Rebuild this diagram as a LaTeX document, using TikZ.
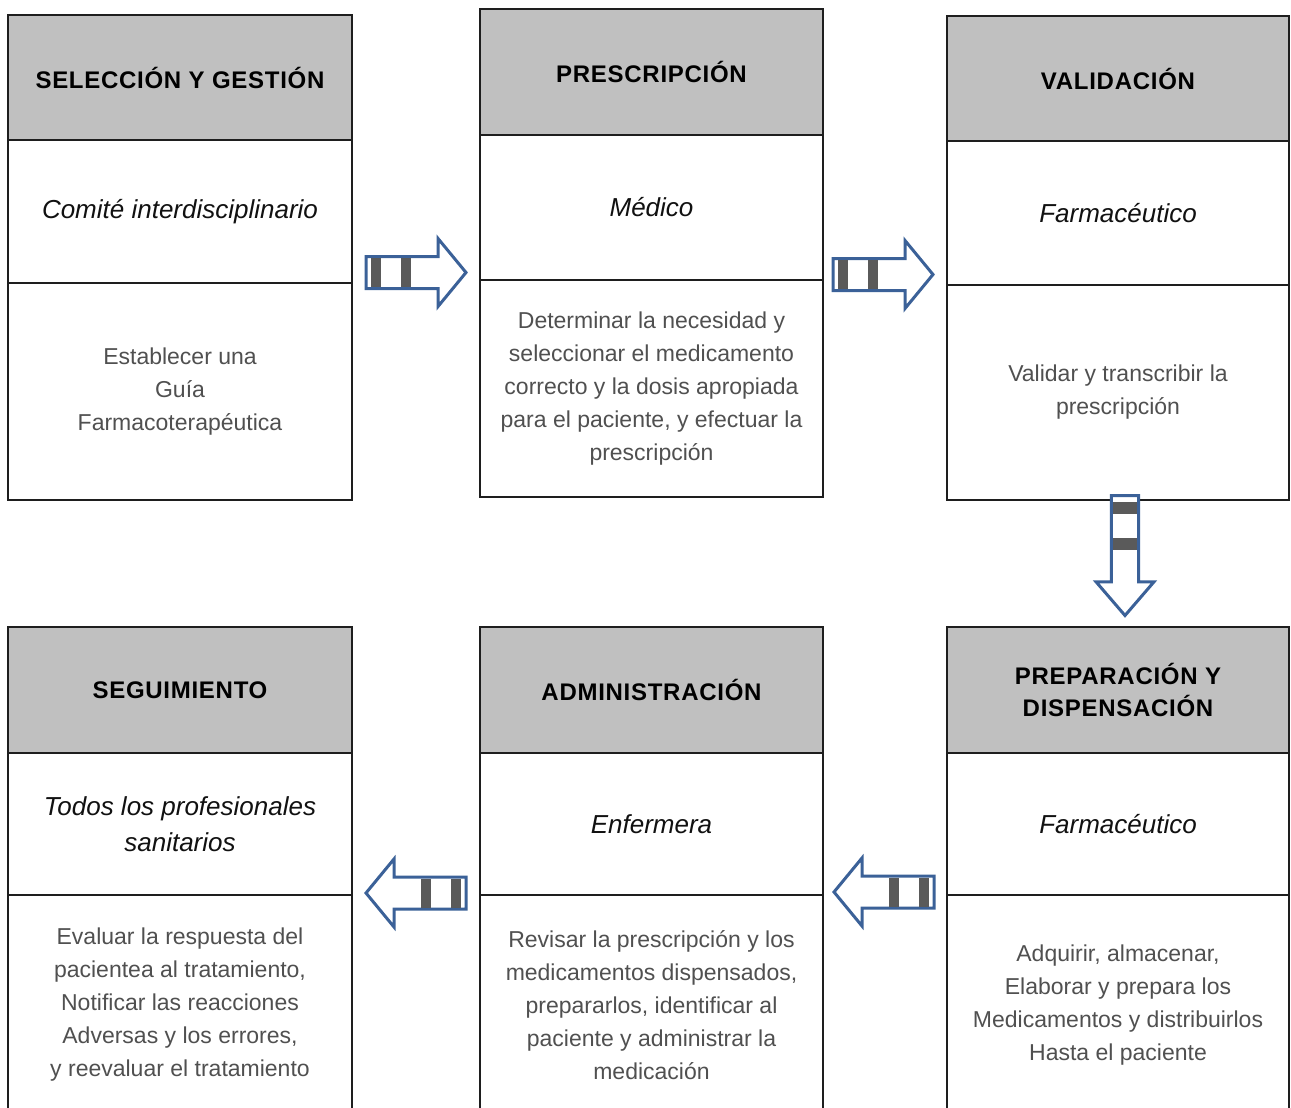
\documentclass[tikz,border=0pt]{standalone}
\usepackage{fontspec}
\setmainfont{Liberation Sans}
\usetikzlibrary{calc}
\definecolor{hdrgray}{HTML}{C0C0C0}
\definecolor{boxline}{HTML}{1E1E1E}
\definecolor{bodygray}{HTML}{505050}
\definecolor{rolecol}{HTML}{111111}
\definecolor{arrowblue}{HTML}{3B6198}
\definecolor{stripegray}{HTML}{5A5A5A}
\tikzset{
  cellbase/.style={draw=boxline, line width=2.5pt, anchor=north west, inner sep=0pt, outer sep=0pt, align=center},
  hdr/.style={cellbase, fill=hdrgray, font=\fontsize{24}{32}\selectfont\bfseries\addfontfeatures{LetterSpace=3}, text=black},
  role/.style={cellbase, fill=white, font=\fontsize{26}{36}\selectfont\itshape, text=rolecol},
  task/.style={cellbase, fill=white, font=\fontsize{23}{33}\selectfont, text=bodygray},
  blockarrow/.pic={
    \draw[arrowblue, line width=3pt, fill=white, line join=miter]
      (-50,-16) -- (22,-16) -- (22,-34) -- (50,0) -- (22,34) -- (22,16) -- (-50,16) -- cycle;
    \fill[stripegray] (-45,-14.5) rectangle (-35,14.5);
    \fill[stripegray] (-15,-14.5) rectangle (-5,14.5);
  }
}
\begin{document}
\begin{tikzpicture}[x=1pt, y=-1pt]
\useasboundingbox (0,0) rectangle (1291,1108);
\clip (0,0) rectangle (1291,1108);
\fill[white] (0,0) rectangle (1291,1108);

% column 1, top
\node[hdr, minimum width=344pt, minimum height=125pt] (h1) at (8,15) {SELECCIÓN Y GESTIÓN};
\node[role, minimum width=344pt, minimum height=143pt] (r1) at (h1.south west) {Comité interdisciplinario};
\node[task, minimum width=344pt, minimum height=217pt] (t1) at (r1.south west) {Establecer una\\Guía\\Farmacoterapéutica};

% column 2, top
\node[hdr, minimum width=343pt, minimum height=126pt] (h2) at (480,9) {PRESCRIPCIÓN};
\node[role, minimum width=343pt, minimum height=145pt] (r2) at (h2.south west) {Médico};
\node[task, minimum width=343pt, minimum height=217pt] (t2) at (r2.south west) {Determinar la necesidad y\\seleccionar el medicamento\\correcto y la dosis apropiada\\para el paciente, y efectuar la\\prescripción};

% column 3, top
\node[hdr, minimum width=342pt, minimum height=125pt] (h3) at (947,16) {VALIDACIÓN};
\node[role, minimum width=342pt, minimum height=144pt] (r3) at (h3.south west) {Farmacéutico};
\node[task, minimum width=342pt, minimum height=215pt] (t3) at (r3.south west) {Validar y transcribir la\\prescripción};

% bottom row
\node[hdr, minimum width=344pt, minimum height=126pt] (h4) at (8,627) {SEGUIMIENTO};
\node[role, minimum width=344pt, minimum height=142pt] (r4) at (h4.south west) {Todos los profesionales\\sanitarios};
\node[task, minimum width=344pt, minimum height=220pt] (t4) at (r4.south west) {Evaluar la respuesta del\\pacientea al tratamiento,\\Notificar las reacciones\\Adversas y los errores,\\y reevaluar el tratamiento};

\node[hdr, minimum width=343pt, minimum height=126pt] (h5) at (480,627) {ADMINISTRACIÓN};
\node[role, minimum width=343pt, minimum height=142pt] (r5) at (h5.south west) {Enfermera};
\node[task, minimum width=343pt, minimum height=220pt] (t5) at (r5.south west) {Revisar la prescripción y los\\medicamentos dispensados,\\prepararlos, identificar al\\paciente y administrar la\\medicación};

\node[hdr, minimum width=342pt, minimum height=126pt] (h6) at (947,627) {PREPARACIÓN Y\\DISPENSACIÓN};
\node[role, minimum width=342pt, minimum height=142pt] (r6) at (h6.south west) {Farmacéutico};
\node[task, minimum width=342pt, minimum height=220pt] (t6) at (r6.south west) {Adquirir, almacenar,\\Elaborar y prepara los\\Medicamentos y distribuirlos\\Hasta el paciente};

% block arrows between the boxes
\pic at ($(r1.south east)!.5!(r2.south west)+(0,-9)$) {blockarrow};
\pic at ($(r2.south east)!.5!(r3.south west)+(-2,-8)$) {blockarrow};
\pic[rotate=-90, xscale=1.2, yscale=0.85] at ($(t3.south)!.5!(h6.north)+(7,-8)$) {blockarrow};
\pic[rotate=180] at ($(r6.south west)!.5!(r5.south east)+(-1,-3)$) {blockarrow};
\pic[rotate=180] at ($(r5.south west)!.5!(r4.south east)+(0,-2)$) {blockarrow};
\end{tikzpicture}
\end{document}
